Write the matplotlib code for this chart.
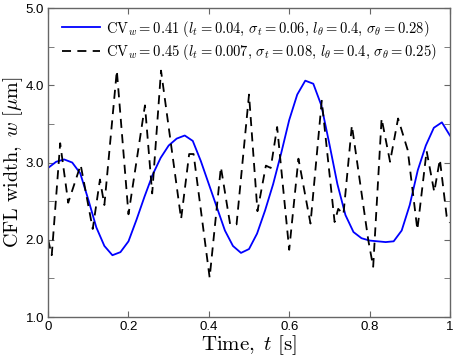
"""
CFL width over time: two realisations with different correlation lengths.
"""

import matplotlib
matplotlib.use("Agg")
import matplotlib.pyplot as plt
from matplotlib.ticker import MultipleLocator, FormatStrFormatter

# %% Data
t_smooth = [0.00, 0.02, 0.04, 0.06, 0.08, 0.10, 0.12, 0.14, 0.16, 0.18,
            0.20, 0.22, 0.24, 0.26, 0.28, 0.30, 0.32, 0.34, 0.36, 0.38,
            0.40, 0.42, 0.44, 0.46, 0.48, 0.50, 0.52, 0.54, 0.56, 0.58,
            0.60, 0.62, 0.64, 0.66, 0.68, 0.70, 0.72, 0.74, 0.76, 0.78,
            0.80, 0.82, 0.84, 0.86, 0.88, 0.90, 0.92, 0.94, 0.96, 0.98,
            1.00]
w_smooth = [2.93, 3.01, 3.04, 3.00, 2.86, 2.52, 2.16, 1.92, 1.80, 1.84,
            1.98, 2.26, 2.56, 2.84, 3.06, 3.22, 3.31, 3.35, 3.28, 3.02,
            2.72, 2.42, 2.12, 1.92, 1.83, 1.88, 2.08, 2.38, 2.72, 3.12,
            3.55, 3.88, 4.06, 4.02, 3.74, 3.24, 2.72, 2.32, 2.10, 2.02,
            1.99, 1.98, 1.97, 1.98, 2.12, 2.45, 2.90, 3.22, 3.45, 3.52,
            3.35]

t_rough = [0.000, 0.009, 0.030, 0.050, 0.081, 0.111, 0.129, 0.140, 0.171, 0.200,
           0.241, 0.259, 0.281, 0.331, 0.351, 0.362, 0.402, 0.430, 0.453, 0.469,
           0.500, 0.521, 0.542, 0.554, 0.570, 0.600, 0.623, 0.653, 0.681, 0.713,
           0.722, 0.735, 0.756, 0.797, 0.809, 0.830, 0.851, 0.871, 0.895, 0.919,
           0.942, 0.961, 0.975, 0.992, 1.000]
w_rough = [2.00, 1.80, 3.25, 2.48, 2.97, 2.14, 2.78, 2.45, 4.19, 2.33,
           3.74, 2.60, 4.19, 2.27, 3.11, 3.11, 1.51, 2.94, 2.20, 2.20,
           3.88, 2.37, 2.96, 2.93, 3.46, 1.87, 3.05, 2.21, 3.80, 2.23,
           2.40, 2.33, 3.48, 1.99, 1.65, 3.57, 3.01, 3.57, 3.16, 2.13,
           3.15, 2.62, 3.04, 2.30, 2.22]

label_smooth = (r"$\mathrm{CV}_w = 0.41\ (l_t = 0.04,\, \sigma_t = 0.06,"
                r"\, l_\theta = 0.4,\, \sigma_\theta = 0.28)$")
label_rough = (r"$\mathrm{CV}_w = 0.45\ (l_t = 0.007,\, \sigma_t = 0.08,"
               r"\, l_\theta = 0.4,\, \sigma_\theta = 0.25)$")

# %% Style
plt.rcParams["mathtext.fontset"] = "cm"
plt.rcParams["font.family"] = ["Liberation Sans", "DejaVu Sans"]

SPINE_C = "#666666"

fig = plt.figure(figsize=(4.54, 3.58), dpi=100)
ax = fig.add_axes([0.106, 0.1145, 0.885, 0.863])

ax.plot(t_smooth, w_smooth, "-", c="#0000ff", lw=1.3, label=label_smooth)
ax.plot(t_rough, w_rough, c="k", lw=1.3, ls=(0, (5, 3.5)), label=label_rough)

ax.set_xlim(0, 1)
ax.set_ylim(1, 5)
ax.xaxis.set_major_locator(MultipleLocator(0.2))
ax.xaxis.set_major_formatter(FormatStrFormatter("%g"))
ax.yaxis.set_major_locator(MultipleLocator(1.0))
ax.yaxis.set_minor_locator(MultipleLocator(0.5))
ax.yaxis.set_major_formatter(FormatStrFormatter("%.1f"))
ax.tick_params(which="both", direction="in", top=True, right=True,
               color=SPINE_C, labelsize=9.5, pad=3)
ax.tick_params(which="major", length=4)
ax.tick_params(which="minor", length=4)
for s in ax.spines.values():
    s.set_color(SPINE_C)
    s.set_linewidth(1.0)

ax.set_xlabel(r"$\mathrm{Time,}\ t\ [\mathrm{s}]$", fontsize=15, labelpad=0)
ax.set_ylabel(r"$\mathrm{CFL\ width,}\ w\ [\mu\mathrm{m}]$", fontsize=14.5)
ax.yaxis.set_label_coords(-0.058, 0.5)

ax.legend(loc="upper left", bbox_to_anchor=(0.02, 0.985), frameon=False,
          fontsize=10.5, handlelength=2.6, handletextpad=0.4,
          borderaxespad=0.0, labelspacing=0.25)

fig.savefig("out.png", dpi=100)
